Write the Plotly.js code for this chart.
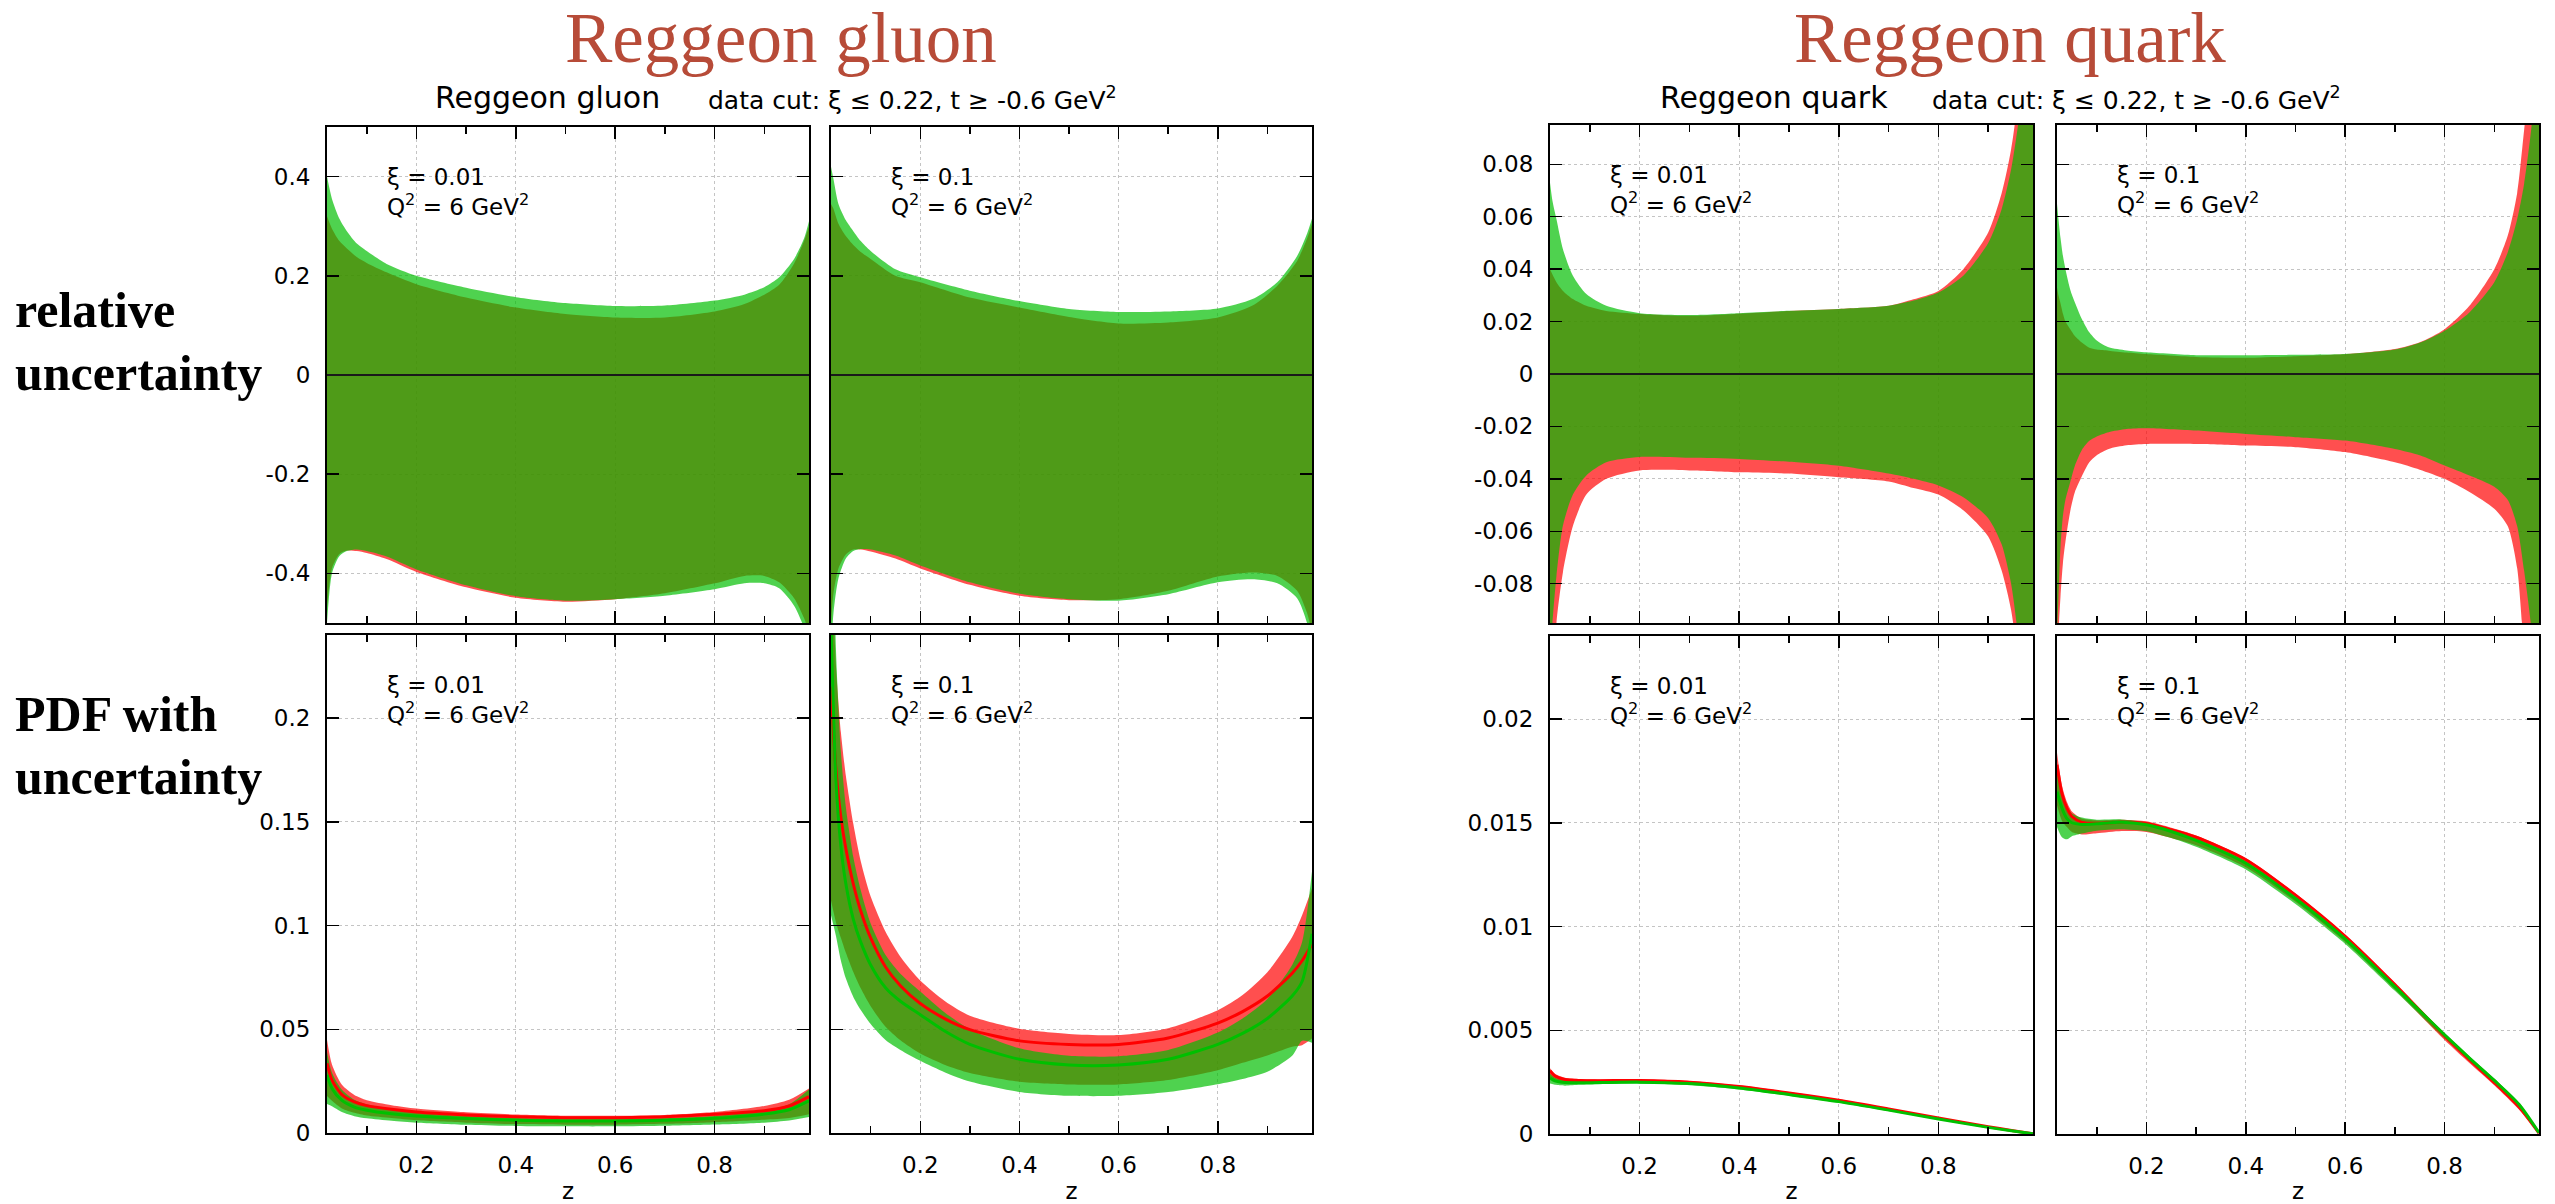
<!DOCTYPE html>
<html>
<head>
<meta charset="utf-8">
<script src="https://cdn.plot.ly/plotly-3.0.1.min.js"></script>
<style>html,body{margin:0;padding:0;background:#fff;}</style>
</head>
<body>
<div id="chart" style="width:2555px;height:1204px;"></div>
<script>
// ---------- Reggeon gluon, relative uncertainty, xi = 0.01 ----------
const zGR1 = [0.02, 0.03, 0.045, 0.06, 0.08, 0.1, 0.14, 0.2, 0.3, 0.4, 0.5, 0.6, 0.7, 0.8, 0.86, 0.9, 0.93, 0.96, 0.98, 0.99];
const gR1GreenHi = [0.40, 0.355, 0.315, 0.29, 0.265, 0.25, 0.224, 0.200, 0.176, 0.157, 0.145, 0.139, 0.140, 0.150, 0.162, 0.177, 0.197, 0.234, 0.275, 0.31];
const gR1RedHi   = [0.32, 0.295, 0.27, 0.255, 0.238, 0.226, 0.207, 0.183, 0.156, 0.136, 0.123, 0.116, 0.116, 0.128, 0.143, 0.162, 0.182, 0.225, 0.27, 0.30];
const gR1GreenLo = [-0.50, -0.40, -0.365, -0.355, -0.352, -0.355, -0.366, -0.392, -0.424, -0.446, -0.455, -0.452, -0.445, -0.432, -0.42, -0.42, -0.43, -0.465, -0.51, -0.56];
const gR1RedLo   = [-0.47, -0.39, -0.361, -0.354, -0.355, -0.359, -0.371, -0.397, -0.428, -0.449, -0.457, -0.452, -0.44, -0.42, -0.405, -0.405, -0.418, -0.45, -0.49, -0.52];

// ---------- Reggeon gluon, relative uncertainty, xi = 0.1 ----------
const zGR2 = [0.02, 0.025, 0.035, 0.05, 0.065, 0.08, 0.1, 0.15, 0.2, 0.3, 0.4, 0.5, 0.6, 0.7, 0.8, 0.87, 0.92, 0.96, 0.98, 0.99];
const gR2GreenHi = [0.42, 0.395, 0.345, 0.312, 0.29, 0.27, 0.25, 0.213, 0.197, 0.17, 0.149, 0.133, 0.127, 0.128, 0.134, 0.153, 0.187, 0.24, 0.285, 0.315];
const gR2RedHi   = [0.345, 0.335, 0.305, 0.28, 0.262, 0.248, 0.234, 0.2, 0.187, 0.156, 0.136, 0.117, 0.104, 0.106, 0.116, 0.14, 0.18, 0.23, 0.275, 0.305];
const gR2GreenLo = [-0.56, -0.48, -0.41, -0.37, -0.355, -0.351, -0.352, -0.364, -0.384, -0.418, -0.441, -0.452, -0.455, -0.442, -0.418, -0.412, -0.42, -0.45, -0.5, -0.55];
const gR2RedLo   = [-0.50, -0.44, -0.39, -0.362, -0.352, -0.352, -0.356, -0.37, -0.39, -0.423, -0.445, -0.454, -0.452, -0.435, -0.406, -0.398, -0.405, -0.435, -0.48, -0.52];

// ---------- Reggeon quark, relative uncertainty, xi = 0.01 ----------
const zQR1 = [0.02, 0.025, 0.033, 0.046, 0.066, 0.093, 0.133, 0.2, 0.3, 0.4, 0.5, 0.6, 0.7, 0.75, 0.8, 0.85, 0.9, 0.927, 0.946, 0.96, 0.975, 0.99];
const qR1GreenHi = [0.073, 0.066, 0.059, 0.0476, 0.0375, 0.0305, 0.026, 0.0232, 0.0225, 0.0232, 0.0241, 0.0248, 0.026, 0.028, 0.0311, 0.0375, 0.050, 0.0629, 0.078, 0.095, 0.12, 0.15];
const qR1RedHi   = [0.040, 0.038, 0.035, 0.0317, 0.0286, 0.026, 0.024, 0.0229, 0.0222, 0.023, 0.024, 0.0248, 0.026, 0.0285, 0.0317, 0.040, 0.054, 0.069, 0.0857, 0.105, 0.13, 0.16];
const qR1GreenLo = [-0.11, -0.095, -0.077, -0.0578, -0.046, -0.0387, -0.0337, -0.0317, -0.032, -0.0324, -0.0335, -0.035, -0.038, -0.040, -0.0425, -0.047, -0.055, -0.065, -0.08, -0.1, -0.13, -0.16];
const qR1RedLo   = [-0.16, -0.13, -0.095, -0.0756, -0.058, -0.046, -0.04, -0.0368, -0.0368, -0.0375, -0.038, -0.0394, -0.041, -0.0435, -0.046, -0.052, -0.062, -0.075, -0.09, -0.11, -0.14, -0.17];

// ---------- Reggeon quark, relative uncertainty, xi = 0.1 ----------
const zQR2 = [0.02, 0.023, 0.027, 0.032, 0.037, 0.047, 0.056, 0.07, 0.085, 0.1, 0.124, 0.16, 0.2, 0.3, 0.4, 0.5, 0.6, 0.7, 0.75, 0.8, 0.85, 0.9, 0.927, 0.946, 0.96, 0.975, 0.99];
const qR2GreenHi = [0.065, 0.059, 0.052, 0.045, 0.04, 0.032, 0.0273, 0.021, 0.0159, 0.0128, 0.0102, 0.009, 0.0083, 0.0072, 0.0072, 0.0073, 0.0076, 0.0093, 0.0119, 0.0165, 0.0235, 0.035, 0.0464, 0.059, 0.0725, 0.0946, 0.13];
const qR2RedHi   = [0.033, 0.03, 0.027, 0.023, 0.02, 0.017, 0.0145, 0.012, 0.01, 0.0093, 0.0089, 0.0082, 0.0076, 0.0065, 0.0062, 0.0068, 0.0075, 0.0095, 0.0121, 0.0171, 0.026, 0.04, 0.0527, 0.069, 0.093, 0.12, 0.16];
const qR2GreenLo = [-0.10, -0.085, -0.066, -0.054, -0.048, -0.041, -0.035, -0.029, -0.0255, -0.0238, -0.0222, -0.021, -0.0207, -0.0216, -0.0229, -0.0241, -0.0254, -0.0286, -0.031, -0.0349, -0.0387, -0.043, -0.048, -0.058, -0.075, -0.098, -0.14];
const qR2RedLo   = [-0.14, -0.1, -0.085, -0.072, -0.064, -0.052, -0.045, -0.039, -0.0337, -0.031, -0.0286, -0.0272, -0.0267, -0.0267, -0.0273, -0.0279, -0.0298, -0.0337, -0.0365, -0.04, -0.045, -0.0514, -0.058, -0.074, -0.105, -0.13, -0.17];

// ---------- Reggeon gluon PDF, xi = 0.01 ----------
const zGP1 = [0.02, 0.03, 0.05, 0.075, 0.1, 0.15, 0.2, 0.3, 0.4, 0.5, 0.6, 0.7, 0.8, 0.9, 0.95, 0.99];
const gP1RedC    = [0.0336, 0.0255, 0.0185, 0.0150, 0.0132, 0.0114, 0.0101, 0.0087, 0.0078, 0.0074, 0.0074, 0.0078, 0.0090, 0.0107, 0.0130, 0.0175];
const gP1RedHi   = [0.045, 0.033, 0.0232, 0.0183, 0.0158, 0.0134, 0.0118, 0.0100, 0.0089, 0.0083, 0.0083, 0.0087, 0.0101, 0.0130, 0.0160, 0.0215];
const gP1RedLo   = [0.0178, 0.0155, 0.0118, 0.0097, 0.0084, 0.0072, 0.0061, 0.0050, 0.0043, 0.0040, 0.0040, 0.0044, 0.0052, 0.0064, 0.0072, 0.0090];
const gP1GreenC  = [0.028, 0.0215, 0.0157, 0.0125, 0.011, 0.0093, 0.0082, 0.0070, 0.0062, 0.0058, 0.0058, 0.0062, 0.0071, 0.0091, 0.0112, 0.0155];
const gP1GreenHi = [0.039, 0.029, 0.0208, 0.016, 0.0138, 0.0113, 0.0098, 0.0082, 0.0072, 0.0066, 0.0066, 0.0071, 0.0082, 0.0107, 0.0138, 0.021];
const gP1GreenLo = [0.014, 0.0129, 0.0101, 0.0081, 0.0071, 0.0059, 0.0050, 0.0040, 0.0034, 0.0032, 0.0032, 0.0035, 0.0041, 0.0050, 0.0060, 0.0077];

// ---------- Reggeon gluon PDF, xi = 0.1 ----------
const zGP2 = [0.02, 0.03, 0.04, 0.05, 0.065, 0.08, 0.1, 0.13, 0.16, 0.2, 0.25, 0.3, 0.4, 0.5, 0.6, 0.7, 0.8, 0.85, 0.9, 0.95, 0.97, 0.99];
const gP2RedC    = [0.215, 0.175, 0.152, 0.137, 0.12, 0.107, 0.094, 0.080, 0.071, 0.0624, 0.055, 0.0498, 0.0444, 0.0427, 0.0427, 0.0458, 0.053, 0.0585, 0.066, 0.077, 0.083, 0.091];
const gP2RedHi   = [0.285, 0.225, 0.193, 0.172, 0.149, 0.131, 0.114, 0.097, 0.085, 0.0735, 0.0635, 0.0565, 0.0502, 0.0477, 0.0472, 0.0505, 0.0592, 0.0665, 0.0775, 0.0945, 0.105, 0.118];
const gP2RedLo   = [0.112, 0.1015, 0.094, 0.0869, 0.0776, 0.0697, 0.0611, 0.0512, 0.0447, 0.0383, 0.0328, 0.0289, 0.0247, 0.0234, 0.0234, 0.0255, 0.0302, 0.0338, 0.0374, 0.0416, 0.0423, 0.0455];
const gP2GreenC  = [0.245, 0.170, 0.138, 0.12, 0.103, 0.092, 0.081, 0.070, 0.0635, 0.057, 0.049, 0.0427, 0.0355, 0.0328, 0.0328, 0.0355, 0.0427, 0.048, 0.0552, 0.066, 0.073, 0.096];
const gP2GreenHi = [0.348, 0.233, 0.1835, 0.157, 0.133, 0.117, 0.101, 0.0858, 0.0768, 0.0682, 0.058, 0.05, 0.0408, 0.0372, 0.037, 0.04, 0.0484, 0.0552, 0.0646, 0.081, 0.092, 0.126];
const gP2GreenLo = [0.105, 0.095, 0.083, 0.0744, 0.0656, 0.0593, 0.0525, 0.0448, 0.04, 0.0348, 0.0292, 0.0248, 0.0198, 0.0179, 0.0179, 0.0197, 0.0235, 0.026, 0.0295, 0.0372, 0.0445, 0.0435];

// ---------- Reggeon quark PDF, xi = 0.01 ----------
const zQP1 = [0.02, 0.03, 0.05, 0.08, 0.12, 0.2, 0.3, 0.4, 0.5, 0.6, 0.7, 0.8, 0.9, 0.95, 0.99];
const qP1RedC    = [0.00305, 0.0028, 0.00263, 0.00258, 0.00257, 0.00258, 0.0025, 0.00229, 0.00198, 0.00163, 0.00121, 0.00077, 0.00035, 0.00016, 0.00001];
const qP1RedHi   = [0.00317, 0.0029, 0.00271, 0.00265, 0.00263, 0.00264, 0.00256, 0.00234, 0.00203, 0.00167, 0.00124, 0.00079, 0.00037, 0.000174, 0.000012];
const qP1RedLo   = [0.00268, 0.00253, 0.00246, 0.00246, 0.00246, 0.00248, 0.00241, 0.0022, 0.0019, 0.00157, 0.00116, 0.00073, 0.00033, 0.000146, 0.000008];
const qP1GreenC  = [0.0027, 0.00256, 0.00248, 0.00247, 0.00248, 0.0025, 0.00243, 0.00222, 0.0019, 0.00156, 0.00115, 0.00072, 0.00032, 0.00014, 0.00001];
const qP1GreenHi = [0.0029, 0.00271, 0.00259, 0.00255, 0.00255, 0.00256, 0.00248, 0.00227, 0.00195, 0.0016, 0.00118, 0.00074, 0.00034, 0.000151, 0.000012];
const qP1GreenLo = [0.00243, 0.00237, 0.00233, 0.00237, 0.0024, 0.00242, 0.00235, 0.00215, 0.00184, 0.00151, 0.00111, 0.00069, 0.0003, 0.000129, 0.000008];

// ---------- Reggeon quark PDF, xi = 0.1 ----------
const zQP2 = [0.02, 0.03, 0.04, 0.05, 0.07, 0.1, 0.15, 0.2, 0.25, 0.3, 0.4, 0.5, 0.6, 0.7, 0.8, 0.85, 0.9, 0.95, 0.99];
const qP2RedC    = [0.0178, 0.0164, 0.0157, 0.0153, 0.01502, 0.01497, 0.01502, 0.01496, 0.01466, 0.0143, 0.01322, 0.01151, 0.00953, 0.0072, 0.00472, 0.00358, 0.00248, 0.0013, 0.00004];
const qP2RedHi   = [0.01837, 0.01679, 0.016, 0.01554, 0.0152, 0.01511, 0.01515, 0.01507, 0.01476, 0.01439, 0.0133, 0.01159, 0.0096, 0.00727, 0.0048, 0.00367, 0.00258, 0.0014, 0.00006];
const qP2RedLo   = [0.01584, 0.01509, 0.01479, 0.01455, 0.01443, 0.01449, 0.0146, 0.01456, 0.01427, 0.01392, 0.01286, 0.01119, 0.00925, 0.00696, 0.00453, 0.00342, 0.00235, 0.00117, 0.00002];
const qP2GreenC  = [0.0165, 0.0157, 0.0152, 0.0150, 0.01492, 0.01495, 0.01502, 0.0149, 0.01458, 0.01415, 0.01305, 0.01135, 0.0094, 0.0071, 0.00478, 0.00366, 0.00258, 0.00142, 0.00006];
const qP2GreenHi = [0.01757, 0.01641, 0.01575, 0.01545, 0.01525, 0.01515, 0.01516, 0.01502, 0.01469, 0.01425, 0.01314, 0.01143, 0.00947, 0.00717, 0.00486, 0.00375, 0.00267, 0.00151, 0.00008];
const qP2GreenLo = [0.0148, 0.0143, 0.0142, 0.01435, 0.01448, 0.01462, 0.01469, 0.01459, 0.01426, 0.01384, 0.01275, 0.01108, 0.00916, 0.0069, 0.00461, 0.00352, 0.00247, 0.00133, 0.00004];

// ---------- axis ticks ----------
const zTicks = [0.2, 0.4, 0.6, 0.8];
const zTickText = ['0.2', '0.4', '0.6', '0.8'];
const zMinorTicks = [0.1, 0.3, 0.5, 0.7, 0.9];
const gRelTicks = [-0.4, -0.2, 0, 0.2, 0.4];
const gRelTickText = ['-0.4', '-0.2', '0', '0.2', '0.4'];
const qRelTicks = [-0.08, -0.06, -0.04, -0.02, 0, 0.02, 0.04, 0.06, 0.08];
const qRelTickText = ['-0.08', '-0.06', '-0.04', '-0.02', '0', '0.02', '0.04', '0.06', '0.08'];
const gPdfTicks = [0, 0.05, 0.1, 0.15, 0.2];
const gPdfTickText = ['0', '0.05', '0.1', '0.15', '0.2'];
const qPdfTicks = [0, 0.005, 0.01, 0.015, 0.02];
const qPdfTickText = ['0', '0.005', '0.01', '0.015', '0.02'];

// ---------- styling ----------
const W = 2555, H = 1204;
const RED_FILL = 'rgba(255,0,0,0.69)';
const GREEN_FILL = 'rgba(0,190,0,0.69)';
const RED_LINE = 'rgb(255,0,0)';
const GREEN_LINE = 'rgb(0,192,0)';
const TICK_FONT = {family: 'DejaVu Sans', size: 23, color: '#000'};

// panel boxes in pixels: [left, right], [top, bottom]
const boxes = [
  {x: [327, 809],   y: [127, 623]},
  {x: [831, 1312],  y: [127, 623]},
  {x: [1550, 2033], y: [125, 623]},
  {x: [2057, 2539], y: [125, 623]},
  {x: [327, 809],   y: [635, 1133]},
  {x: [831, 1312],  y: [635, 1133]},
  {x: [1550, 2033], y: [636, 1134]},
  {x: [2057, 2539], y: [636, 1134]}
];

const traces = [];
const spl = {shape: 'spline', smoothing: 0.7};

function axId(i) { return i === 0 ? '' : String(i + 1); }

function band(i, z, lo, hi, fill) {
  const xa = 'x' + axId(i), ya = 'y' + axId(i);
  traces.push({x: z, y: lo, xaxis: xa, yaxis: ya, mode: 'lines',
    line: Object.assign({width: 0}, spl), hoverinfo: 'skip', showlegend: false});
  traces.push({x: z, y: hi, xaxis: xa, yaxis: ya, mode: 'lines', fill: 'tonexty',
    fillcolor: fill, line: Object.assign({width: 0}, spl), hoverinfo: 'skip', showlegend: false});
}
function curve(i, z, v, color) {
  traces.push({x: z, y: v, xaxis: 'x' + axId(i), yaxis: 'y' + axId(i), mode: 'lines',
    line: Object.assign({width: 3, color: color}, spl), hoverinfo: 'skip', showlegend: false});
}

// relative uncertainty row
band(0, zGR1, gR1RedLo, gR1RedHi, RED_FILL);   band(0, zGR1, gR1GreenLo, gR1GreenHi, GREEN_FILL);
band(1, zGR2, gR2RedLo, gR2RedHi, RED_FILL);   band(1, zGR2, gR2GreenLo, gR2GreenHi, GREEN_FILL);
band(2, zQR1, qR1RedLo, qR1RedHi, RED_FILL);   band(2, zQR1, qR1GreenLo, qR1GreenHi, GREEN_FILL);
band(3, zQR2, qR2RedLo, qR2RedHi, RED_FILL);   band(3, zQR2, qR2GreenLo, qR2GreenHi, GREEN_FILL);

// PDF row
band(4, zGP1, gP1RedLo, gP1RedHi, RED_FILL);   band(4, zGP1, gP1GreenLo, gP1GreenHi, GREEN_FILL);
curve(4, zGP1, gP1RedC, RED_LINE);             curve(4, zGP1, gP1GreenC, GREEN_LINE);
band(5, zGP2, gP2RedLo, gP2RedHi, RED_FILL);   band(5, zGP2, gP2GreenLo, gP2GreenHi, GREEN_FILL);
curve(5, zGP2, gP2RedC, RED_LINE);             curve(5, zGP2, gP2GreenC, GREEN_LINE);
band(6, zQP1, qP1RedLo, qP1RedHi, RED_FILL);   band(6, zQP1, qP1GreenLo, qP1GreenHi, GREEN_FILL);
curve(6, zQP1, qP1RedC, RED_LINE);             curve(6, zQP1, qP1GreenC, GREEN_LINE);
band(7, zQP2, qP2RedLo, qP2RedHi, RED_FILL);   band(7, zQP2, qP2GreenLo, qP2GreenHi, GREEN_FILL);
curve(7, zQP2, qP2RedC, RED_LINE);             curve(7, zQP2, qP2GreenC, GREEN_LINE);

const yConf = [
  {range: [-0.5, 0.5], vals: gRelTicks, text: gRelTickText},
  {range: [-0.5, 0.5], vals: gRelTicks, text: gRelTickText},
  {range: [-0.095, 0.095], vals: qRelTicks, text: qRelTickText},
  {range: [-0.095, 0.095], vals: qRelTicks, text: qRelTickText},
  {range: [0, 0.24], vals: gPdfTicks, text: gPdfTickText},
  {range: [0, 0.24], vals: gPdfTicks, text: gPdfTickText},
  {range: [0, 0.024], vals: qPdfTicks, text: qPdfTickText},
  {range: [0, 0.024], vals: qPdfTicks, text: qPdfTickText}
];

const layout = {
  width: W, height: H,
  margin: {l: 0, r: 0, t: 0, b: 0},
  paper_bgcolor: '#fff', plot_bgcolor: '#fff',
  showlegend: false, hovermode: false,
  font: TICK_FONT,
  shapes: [], annotations: []
};

const common = {
  showline: true, linecolor: '#000', linewidth: 2, mirror: 'allticks',
  ticks: 'inside', ticklen: 12, tickwidth: 1.5, tickcolor: '#000',
  showgrid: true, gridcolor: '#c4c4c4', gridwidth: 1, griddash: 'dot',
  zeroline: false, fixedrange: true, tickfont: TICK_FONT, ticklabelstandoff: 10
};

boxes.forEach((b, i) => {
  const id = axId(i);
  const bottomRow = i >= 4;
  layout['xaxis' + id] = Object.assign({}, common, {
    domain: [b.x[0] / W, b.x[1] / W], anchor: 'y' + id,
    range: [0.02, 0.99], tickmode: 'array', tickvals: zTicks, ticktext: zTickText,
    showticklabels: bottomRow,
    minor: {tickmode: 'array', tickvals: zMinorTicks, ticks: 'inside', ticklen: 7,
            tickwidth: 1.5, tickcolor: '#000', showgrid: false},
    title: bottomRow ? {text: 'z', font: {family: 'DejaVu Sans', size: 23, color: '#000'}, standoff: 6} : {text: ''}
  });
  layout['yaxis' + id] = Object.assign({}, common, {
    domain: [1 - b.y[1] / H, 1 - b.y[0] / H], anchor: 'x' + id,
    range: yConf[i].range, tickmode: 'array', tickvals: yConf[i].vals, ticktext: yConf[i].text,
    showticklabels: (i % 2 === 0)
  });
  if (!bottomRow) {
    layout.shapes.push({type: 'line', xref: 'x' + id + ' domain', x0: 0, x1: 1,
      yref: 'y' + id, y0: 0, y1: 0, line: {color: '#1a1a1a', width: 2}, layer: 'above'});
  }
  const xi = (i % 2 === 0) ? '0.01' : '0.1';
  const lblFont = {family: 'DejaVu Sans', size: 23, color: '#000'};
  layout.annotations.push({xref: 'paper', yref: 'paper', x: (b.x[0] + 58) / W, y: 1 - (b.y[0] + 50) / H,
    xanchor: 'left', yanchor: 'middle', showarrow: false, text: 'ξ = ' + xi, font: lblFont});
  layout.annotations.push({xref: 'paper', yref: 'paper', x: (b.x[0] + 58) / W, y: 1 - (b.y[0] + 78) / H,
    xanchor: 'left', yanchor: 'middle', showarrow: false, text: 'Q<sup>2</sup> = 6 GeV<sup>2</sup>', font: lblFont});
});

function note(text, xPx, yPx, font, anchor) {
  layout.annotations.push({xref: 'paper', yref: 'paper', x: xPx / W, y: 1 - yPx / H,
    xanchor: anchor || 'left', yanchor: 'middle', showarrow: false, text: text, font: font});
}
const headFont = {family: 'Liberation Serif', size: 71, color: '#b74b38'};
const subFont = {family: 'DejaVu Sans', size: 30, color: '#000'};
const cutFont = {family: 'DejaVu Sans', size: 25, color: '#000'};
const rowFont = {family: 'Liberation Serif', size: 50, color: '#000'};

note('Reggeon gluon', 781, 38, headFont, 'center');
note('Reggeon quark', 2010, 38, headFont, 'center');
note('Reggeon gluon', 433, 97, subFont);
note('data cut: ξ ≤ 0.22, t ≥ -0.6 GeV<sup>2</sup>', 706, 98, cutFont);
note('Reggeon quark', 1658, 97, subFont);
note('data cut: ξ ≤ 0.22, t ≥ -0.6 GeV<sup>2</sup>', 1930, 98, cutFont);
note('<b>relative</b>', 13, 310, rowFont);
note('<b>uncertainty</b>', 13, 373, rowFont);
note('<b>PDF with</b>', 13, 714, rowFont);
note('<b>uncertainty</b>', 13, 777, rowFont);

Plotly.newPlot('chart', traces, layout, {staticPlot: true, displayModeBar: false});
</script>
</body>
</html>
